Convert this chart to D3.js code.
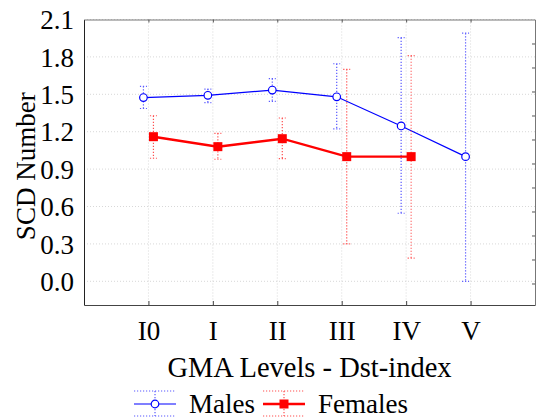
<!DOCTYPE html>
<html>
<head>
<meta charset="utf-8">
<script src="https://cdn.jsdelivr.net/npm/d3@7"></script>
<style>
  body { margin: 0; background: #fff; }
</style>
</head>
<body>
<div id="chart"></div>
<script>
// data
const levels = ["I0", "I", "II", "III", "IV", "V"]
const yTicks = [0.0, 0.3, 0.6, 0.9, 1.2, 1.5, 1.8, 2.1]

const malesMean = [1.474, 1.492, 1.534, 1.48, 1.246, 1.0]
const malesHigh = [1.564, 1.542, 1.626, 1.745, 1.954, 1.99]
const malesLow  = [1.386, 1.434, 1.444, 1.222, 0.546, 0.0]

const femalesMean = [1.16, 1.08, 1.144, 1.0, 1.0]
const femalesHigh = [1.328, 1.187, 1.31, 1.70, 1.81]
const femalesLow  = [0.987, 0.979, 0.984, 0.30, 0.186]

const serif = "'Liberation Serif', 'Times New Roman', Times, serif"

// step 1: dimensions
const W = 536, H = 419
const margin = { left: 84, right: 1, top: 19.5, bottom: 114 }
const width = W - margin.left - margin.right
const height = H - margin.top - margin.bottom

const svg = d3.select("#chart").append("svg")
    .attr("width", W)
    .attr("height", H)

const g = svg.append("g")
    .attr("transform", "translate(" + margin.left + "," + margin.top + ")")

// scales
const x = d3.scalePoint().domain(levels).range([0, width]).padding(1)
const y = d3.scaleLinear().domain([-0.19, 2.1]).range([height, 0])

// grid
g.append("g").selectAll("line").data(yTicks).enter().append("line")
    .attr("x1", 0).attr("x2", width)
    .attr("y1", d => y(d)).attr("y2", d => y(d))
    .attr("stroke", "#d8d8d8").attr("stroke-dasharray", "1,2")
g.append("g").selectAll("line").data(levels).enter().append("line")
    .attr("x1", d => x(d)).attr("x2", d => x(d))
    .attr("y1", 0).attr("y2", height)
    .attr("stroke", "#d8d8d8").attr("stroke-dasharray", "1,2")

// axes
const yAxis = g.append("g")
    .call(d3.axisLeft(y).tickValues(yTicks).tickSize(0).tickPadding(10).tickFormat(d3.format(".1f")))
yAxis.select(".domain").attr("stroke", "#222")
yAxis.selectAll("text").attr("font-size", "27px").attr("dy", "0.34em")

const xAxis = g.append("g")
    .attr("transform", "translate(0," + height + ")")
    .call(d3.axisBottom(x).tickSize(-4).tickPadding(16).tickSizeOuter(0))
xAxis.select(".domain").attr("stroke", "#444")
xAxis.selectAll(".tick line").attr("stroke", "#444")
xAxis.selectAll("text").attr("font-size", "27px")

const topAxis = g.append("g")
    .call(d3.axisTop(x).tickSize(-3).tickSizeOuter(0).tickFormat(""))
topAxis.select(".domain").attr("stroke", "#777")
topAxis.selectAll(".tick line").attr("stroke", "#555")

// right frame has its own finer unlabelled ticks
const rightTicks = d3.range(1, 12).map(k => 2.1 - k * 0.1925)
const rightAxis = g.append("g")
    .attr("transform", "translate(" + width + ",0)")
    .call(d3.axisRight(y).tickValues(rightTicks).tickSize(-3).tickSizeOuter(0).tickFormat(""))
rightAxis.select(".domain").attr("stroke", "#777")
rightAxis.selectAll(".tick line").attr("stroke", "#555")

// labels
g.append("text")
    .attr("transform", "translate(" + (width / 2) + "," + (height + 72) + ")")
    .attr("font-size", "28.5px")
    .style("text-anchor", "middle")
    .text("GMA Levels - Dst-index")

g.append("text")
    .attr("transform", "rotate(-90)")
    .attr("x", -(height / 2) - 4)
    .attr("y", -margin.left + 35)
    .attr("font-size", "27px")
    .style("text-anchor", "middle")
    .text("SCD Number")

// series
function drawSeries(mean, high, low, color, errColor, shift, lineWidth, marker) {
    const data = mean.map((v, i) => ({ k: levels[i], v: v, hi: high[i], lo: low[i] }))
    const px = d => x(d.k) + shift
    const s = g.append("g")

    s.selectAll(".err").data(data).enter().append("line")
        .attr("x1", px).attr("x2", px)
        .attr("y1", d => y(d.hi)).attr("y2", d => y(d.lo))
        .attr("stroke", errColor).attr("stroke-width", 1.2).attr("stroke-dasharray", "1.2,1.8")
    ;["hi", "lo"].forEach(key => {
        s.selectAll(".cap-" + key).data(data).enter().append("line")
            .attr("x1", d => px(d) - 3.5).attr("x2", d => px(d) + 3.5)
            .attr("y1", d => y(d[key])).attr("y2", d => y(d[key]))
            .attr("stroke", errColor).attr("stroke-width", 1.2).attr("stroke-dasharray", "1.2,1.8")
    })

    s.append("path").datum(data)
        .attr("d", d3.line().x(px).y(d => y(d.v)))
        .attr("fill", "none").attr("stroke", color).attr("stroke-width", lineWidth)

    if (marker === "circle") {
        s.selectAll("circle").data(data).enter().append("circle")
            .attr("cx", px).attr("cy", d => y(d.v)).attr("r", 3.8)
            .attr("fill", "#fff").attr("stroke", color).attr("stroke-width", 1.2)
    } else {
        s.selectAll("rect").data(data).enter().append("rect")
            .attr("x", d => px(d) - 4.5).attr("y", d => y(d.v) - 4.5)
            .attr("width", 9).attr("height", 9).attr("fill", color)
    }
}

drawSeries(malesMean, malesHigh, malesLow, "#0000ff", "#5a5aff", -5, 1.2, "circle")
drawSeries(femalesMean, femalesHigh, femalesLow, "#ff0000", "#ff5050", 5, 2.4, "square")

// legend
const legend = svg.append("g").attr("transform", "translate(0,404)")
const items = [
    { name: "Males", color: "#0000ff", err: "#5a5aff", x0: 134, lw: 1.2, marker: "circle" },
    { name: "Females", color: "#ff0000", err: "#ff5050", x0: 263, lw: 2.4, marker: "square" }
]
items.forEach(it => {
    const lg = legend.append("g").attr("transform", "translate(" + it.x0 + ",0)")
    ;[-13, 12].forEach(dy => {
        lg.append("line").attr("x1", 0).attr("x2", 42).attr("y1", dy).attr("y2", dy)
            .attr("stroke", it.err).attr("stroke-width", 1.2).attr("stroke-dasharray", "1.2,1.8")
    })
    lg.append("line").attr("x1", 21).attr("x2", 21).attr("y1", -13).attr("y2", 12)
        .attr("stroke", it.err).attr("stroke-width", 1.2).attr("stroke-dasharray", "1.2,1.8")
    lg.append("line").attr("x1", 0).attr("x2", 42).attr("y1", 0).attr("y2", 0)
        .attr("stroke", it.color).attr("stroke-width", it.lw)
    if (it.marker === "circle") {
        lg.append("circle").attr("cx", 21).attr("cy", 0).attr("r", 3.8)
            .attr("fill", "#fff").attr("stroke", it.color).attr("stroke-width", 1.2)
    } else {
        lg.append("rect").attr("x", 16.5).attr("y", -4.5).attr("width", 9).attr("height", 9)
            .attr("fill", it.color)
    }
    lg.append("text").attr("x", 55).attr("y", 9).attr("font-size", "27px").text(it.name)
})

// every text in the same serif face
svg.selectAll("text").style("font-family", serif).attr("fill", "#000")
</script>
</body>
</html>
